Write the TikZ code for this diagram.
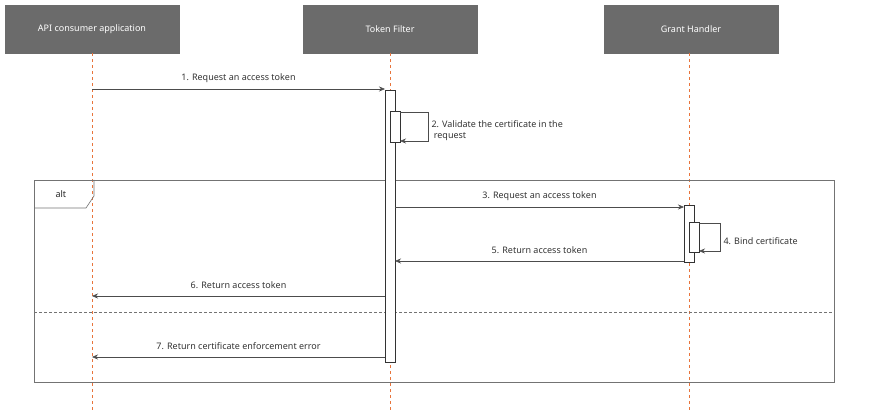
\documentclass[tikz,border=0pt]{standalone}
\usepackage{fontspec}
\setmainfont{Noto Sans}
\usetikzlibrary{arrows.meta}
\definecolor{hdr}{HTML}{6B6B6B}
\definecolor{life}{HTML}{E8743B}
\begin{document}
\begin{tikzpicture}[x=1pt,y=-1pt,
  every node/.style={font=\fontsize{9}{11}\selectfont},
  hdrbox/.style={fill=hdr,draw=hdr,text=white,minimum width=174pt,minimum height=48pt,inner sep=0pt},
  lifeline/.style={draw=life,dashed,dash pattern=on 3pt off 3pt,line width=0.6pt},
  actbox/.style={draw=black!80,fill=white,line width=0.6pt},
  msg/.style={draw=black!70,line width=0.6pt,-{Stealth[length=6pt,width=5pt]}},
  lbl/.style={text=black!80,anchor=south}]
\useasboundingbox (0,0) rectangle (870,419);
\node[hdrbox] (h1) at (92,29) {API consumer application};
\node[hdrbox] (h2) at (390,29) {Token Filter};
\node[hdrbox] (h3) at (691,29) {Grant Handler};
\coordinate (e1) at (92,412); \coordinate (e2) at (390,412); \coordinate (e3) at (689,412);
\draw[lifeline] (h1.south) -- (e1);
\draw[lifeline] (h2.south) -- (e2);
\draw[lifeline] (689,53) -- (e3);
% alt frame
\draw[draw=black!55,line width=0.6pt] (34,180) rectangle (834,382);
\draw[draw=black!55,line width=0.6pt] (34,208) -- (86,208) -- (94,196) -- (94,180);
\node[anchor=west,text=black!85] (alt) at (52,194) {alt};
\draw[draw=black!55,dashed,dash pattern=on 3pt off 2pt,line width=0.5pt] (34,312) -- (834,312);
% activations
\draw[actbox] (385,90) rectangle (395,362);
\draw[actbox] (390,111) rectangle (400,142);
\draw[actbox] (684,205) rectangle (694,262);
\draw[actbox] (689,222) rectangle (699,252);
\coordinate (a1) at (92,89); \coordinate (b1) at (385,89);
\draw[msg] (a1) -- node[lbl,yshift=3pt]{1. Request an access token} (b1);
\coordinate (s2a) at (400,112); \coordinate (s2b) at (400,141);
\draw[msg] (s2a) -- (428,112) -- (428,141) -- (s2b);
\node[anchor=north west,align=left,text=black!80] (l2) at (428,117) {2. Validate the certificate in the\\\ request};
\coordinate (a3) at (395,207); \coordinate (b3) at (684,207);
\draw[msg] (a3) -- node[lbl,yshift=3pt]{3. Request an access token} (b3);
\coordinate (s4a) at (699,223); \coordinate (s4b) at (699,251);
\draw[msg] (s4a) -- (720,223) -- (720,251) -- (s4b);
\node[anchor=west,text=black!80] (l4) at (720,241) {4. Bind certificate};
\coordinate (a5) at (684,261); \coordinate (b5) at (395,261);
\draw[msg] (a5) -- node[lbl,yshift=4pt]{5. Return access token} (b5);
\coordinate (a6) at (385,296); \coordinate (b6) at (92,296);
\draw[msg] (a6) -- node[lbl,yshift=4pt]{6. Return access token} (b6);
\coordinate (a7) at (385,357); \coordinate (b7) at (92,357);
\draw[msg] (a7) -- node[lbl,yshift=4pt]{7. Return certificate enforcement error} (b7);
\end{tikzpicture}
\end{document}
